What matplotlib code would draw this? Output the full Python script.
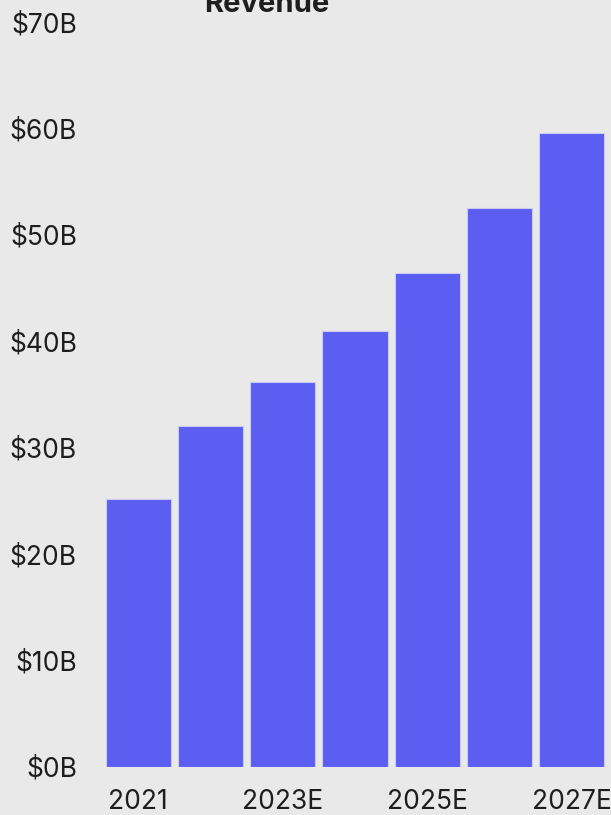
import matplotlib.pyplot as plt

plt.rcParams['font.family'] = ['Inter', 'DejaVu Sans']

years = ['2021', '2022', '2023E', '2024E', '2025E', '2026E', '2027E']
revenue = [25.2, 32.0, 36.2, 41.0, 46.4, 52.5, 59.6]  # $B
y_ticks = [0, 10, 20, 30, 40, 50, 60, 70]

bg = '#e9e9e9'
bar_color = '#5c5ef2'
text_color = '#1e1e1e'

fig = plt.figure(figsize=(6.11, 8.15), dpi=100, facecolor=bg)
ax = fig.add_axes([0.167, 0.0589, 0.828, 0.914], facecolor=bg)

x = range(len(years))
ax.bar(x, revenue, width=0.9, color=bar_color, edgecolor='#c9caf5', linewidth=0.8)

ax.set_xlim(-0.5, len(years) - 0.5)
ax.set_ylim(0, 70)
ax.set_yticks(y_ticks)
ax.set_yticklabels([f'${v}B' for v in y_ticks])
ax.set_xticks(list(x)[::2])
ax.set_xticklabels(years[::2])

ax.tick_params(axis='both', length=0, labelsize=19, colors=text_color)
ax.tick_params(axis='y', pad=18)
ax.tick_params(axis='x', pad=16)
for s in ax.spines.values():
    s.set_visible(False)

# title, partly cut off at the top edge as in the source
fig.text(0.437, 0.978, 'Revenue', ha='center', va='bottom',
         fontsize=21, fontweight='bold', color=text_color)

fig.savefig('out.png', dpi=100, facecolor=bg)
